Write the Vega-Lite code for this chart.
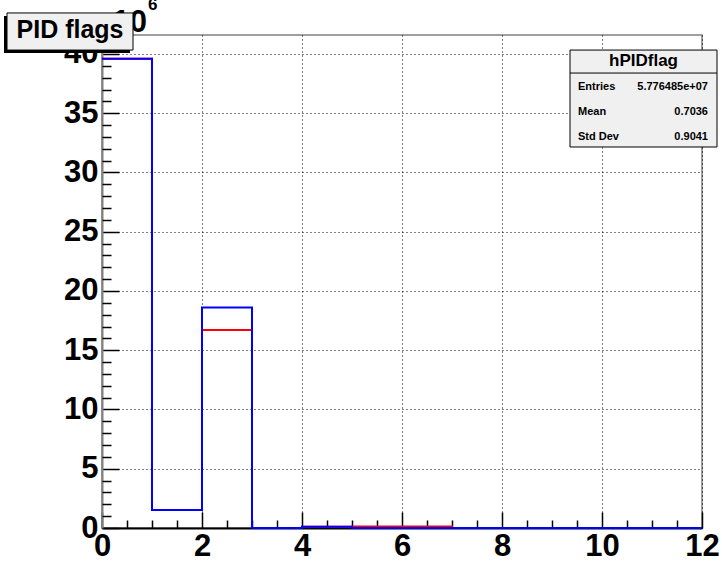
{
  "$schema": "https://vega.github.io/schema/vega-lite/v6.json",
  "width": 600,
  "height": 493,
  "autosize": "none",
  "padding": {"left": 102, "top": 35, "right": 20, "bottom": 33},
  "background": "white",
  "config": {
    "view": {"stroke": "#808080", "strokeWidth": 1.5},
    "font": "Liberation Sans"
  },
  "datasets": {
    "hist": [
      {"series": "red", "lo": 0, "count": 39.6},
      {"series": "red", "lo": 1, "count": 1.52},
      {"series": "red", "lo": 2, "count": 16.7},
      {"series": "red", "lo": 3, "count": 0},
      {"series": "red", "lo": 4, "count": 0.1},
      {"series": "red", "lo": 5, "count": 0.12},
      {"series": "red", "lo": 6, "count": 0.12},
      {"series": "red", "lo": 7, "count": 0},
      {"series": "red", "lo": 8, "count": 0},
      {"series": "red", "lo": 9, "count": 0},
      {"series": "red", "lo": 10, "count": 0},
      {"series": "red", "lo": 11, "count": 0},
      {"series": "red", "lo": 12, "count": 0},
      {"series": "blue", "lo": 0, "count": 39.6},
      {"series": "blue", "lo": 1, "count": 1.52},
      {"series": "blue", "lo": 2, "count": 18.6},
      {"series": "blue", "lo": 3, "count": 0},
      {"series": "blue", "lo": 4, "count": 0.1},
      {"series": "blue", "lo": 5, "count": 0},
      {"series": "blue", "lo": 6, "count": 0},
      {"series": "blue", "lo": 7, "count": 0},
      {"series": "blue", "lo": 8, "count": 0},
      {"series": "blue", "lo": 9, "count": 0},
      {"series": "blue", "lo": 10, "count": 0},
      {"series": "blue", "lo": 11, "count": 0},
      {"series": "blue", "lo": 12, "count": 0}
    ]
  },
  "resolve": {"axis": {"x": "independent", "y": "independent"}},
  "layer": [
    {
      "data": {"name": "hist"},
      "transform": [{"filter": "datum.series === 'red'"}],
      "mark": {"type": "line", "interpolate": "step-after", "strokeWidth": 2, "color": "#ff0000"},
      "encoding": {
        "x": {
          "field": "lo", "type": "quantitative",
          "scale": {"domain": [0, 12], "nice": false, "zero": false},
          "axis": {
            "orient": "bottom", "title": null,
            "values": [0, 2, 4, 6, 8, 10, 12], "format": "d",
            "labelFont": "Liberation Sans", "labelFontSize": 31, "labelFontWeight": "bold",
            "labelColor": "black", "labelPadding": 19, "labelFlush": false, "labelOverlap": false,
            "tickSize": -16, "tickColor": "black", "tickWidth": 1.5,
            "domainColor": "black", "domainWidth": 2,
            "grid": true, "gridColor": "black", "gridDash": [1, 3], "gridWidth": 1
          }
        },
        "y": {
          "field": "count", "type": "quantitative",
          "scale": {"domain": [0, 41.6], "nice": false, "zero": false},
          "axis": {
            "orient": "left", "title": null,
            "values": [0, 5, 10, 15, 20, 25, 30, 35, 40], "format": "d",
            "labelFont": "Liberation Sans", "labelFontSize": 31, "labelFontWeight": "bold",
            "labelColor": "black", "labelPadding": 21, "labelFlush": false, "labelOverlap": false,
            "tickSize": -17, "tickColor": "black", "tickWidth": 1.5,
            "domainColor": "#808080", "domainWidth": 2,
            "grid": true, "gridColor": "black", "gridDash": [1, 3], "gridWidth": 1
          }
        }
      }
    },
    {
      "data": {"name": "hist"},
      "transform": [{"filter": "datum.series === 'blue'"}],
      "mark": {"type": "line", "interpolate": "step-after", "strokeWidth": 2, "color": "#0000ff"},
      "encoding": {
        "x": {
          "field": "lo", "type": "quantitative",
          "axis": {
            "orient": "bottom", "title": null,
            "values": [0.5, 1, 1.5, 2.5, 3, 3.5, 4.5, 5, 5.5, 6.5, 7, 7.5, 8.5, 9, 9.5, 10.5, 11, 11.5],
            "labels": false, "domain": false, "grid": false,
            "tickSize": -8, "tickColor": "black", "tickWidth": 1.5
          }
        },
        "y": {
          "field": "count", "type": "quantitative",
          "axis": {
            "orient": "left", "title": null,
            "values": [1, 2, 3, 4, 6, 7, 8, 9, 11, 12, 13, 14, 16, 17, 18, 19, 21, 22, 23, 24, 26, 27, 28, 29, 31, 32, 33, 34, 36, 37, 38, 39, 41],
            "labels": false, "domain": false, "grid": false,
            "tickSize": -9, "tickColor": "black", "tickWidth": 1.5
          }
        }
      }
    },
    {
      "data": {"values": [{}]},
      "mark": {"type": "text", "text": "10", "font": "Liberation Sans", "fontSize": 31, "fontWeight": "bold", "align": "right", "baseline": "alphabetic", "color": "black"},
      "encoding": {
        "x": {"datum": 0.9, "axis": null},
        "y": {"datum": 41.85, "axis": null}
      }
    },
    {
      "data": {"values": [{}]},
      "mark": {"type": "text", "text": "6", "font": "Liberation Sans", "fontSize": 17, "fontWeight": "bold", "align": "left", "baseline": "alphabetic", "color": "black"},
      "encoding": {
        "x": {"datum": 0.92, "axis": null},
        "y": {"datum": 43.75, "axis": null}
      }
    },
    {
      "data": {"values": [{}]},
      "mark": {"type": "rect", "fill": "black", "clip": false},
      "encoding": {
        "x": {"datum": -1.96, "axis": null},
        "x2": {"datum": 0.56},
        "y": {"datum": 43.2, "axis": null},
        "y2": {"datum": 40.08}
      }
    },
    {
      "data": {"values": [{}]},
      "mark": {"type": "rect", "fill": "#f0f0f0", "stroke": "black", "strokeWidth": 1, "clip": false},
      "encoding": {
        "x": {"datum": -1.9, "axis": null},
        "x2": {"datum": 0.62},
        "y": {"datum": 43.46, "axis": null},
        "y2": {"datum": 40.33}
      }
    },
    {
      "data": {"values": [{}]},
      "mark": {"type": "text", "text": "PID flags", "font": "Liberation Sans", "fontSize": 25, "fontWeight": "bold", "align": "center", "baseline": "alphabetic", "color": "black"},
      "encoding": {
        "x": {"datum": -0.64, "axis": null},
        "y": {"datum": 41.35, "axis": null}
      }
    },
    {
      "data": {"values": [{}]},
      "mark": {"type": "rect", "fill": "#f0f0f0", "stroke": "black", "strokeWidth": 1, "clip": false},
      "encoding": {
        "x": {"datum": 9.36, "axis": null},
        "x2": {"datum": 12.3},
        "y": {"datum": 40.33, "axis": null},
        "y2": {"datum": 32.15}
      }
    },
    {
      "data": {"values": [{}]},
      "mark": {"type": "rule", "color": "black", "strokeWidth": 1},
      "encoding": {
        "x": {"datum": 9.36, "axis": null},
        "x2": {"datum": 12.3},
        "y": {"datum": 38.39, "axis": null}
      }
    },
    {
      "data": {"values": [{}]},
      "mark": {"type": "text", "text": "hPIDflag", "fontSize": 17, "fontWeight": "bold", "align": "center", "baseline": "middle", "color": "black"},
      "encoding": {
        "x": {"datum": 10.83, "axis": null},
        "y": {"datum": 39.42, "axis": null}
      }
    },
    {
      "data": {"values": [{}]},
      "mark": {"type": "text", "text": "Entries", "fontSize": 11, "fontWeight": "bold", "align": "left", "baseline": "middle", "color": "black"},
      "encoding": {"x": {"datum": 9.52, "axis": null}, "y": {"datum": 37.21, "axis": null}}
    },
    {
      "data": {"values": [{}]},
      "mark": {"type": "text", "text": "5.776485e+07", "fontSize": 11, "fontWeight": "bold", "align": "right", "baseline": "middle", "color": "black"},
      "encoding": {"x": {"datum": 12.12, "axis": null}, "y": {"datum": 37.21, "axis": null}}
    },
    {
      "data": {"values": [{}]},
      "mark": {"type": "text", "text": "Mean", "fontSize": 11, "fontWeight": "bold", "align": "left", "baseline": "middle", "color": "black"},
      "encoding": {"x": {"datum": 9.52, "axis": null}, "y": {"datum": 35.1, "axis": null}}
    },
    {
      "data": {"values": [{}]},
      "mark": {"type": "text", "text": "0.7036", "fontSize": 11, "fontWeight": "bold", "align": "right", "baseline": "middle", "color": "black"},
      "encoding": {"x": {"datum": 12.12, "axis": null}, "y": {"datum": 35.1, "axis": null}}
    },
    {
      "data": {"values": [{}]},
      "mark": {"type": "text", "text": "Std Dev", "fontSize": 11, "fontWeight": "bold", "align": "left", "baseline": "middle", "color": "black"},
      "encoding": {"x": {"datum": 9.52, "axis": null}, "y": {"datum": 32.99, "axis": null}}
    },
    {
      "data": {"values": [{}]},
      "mark": {"type": "text", "text": "0.9041", "fontSize": 11, "fontWeight": "bold", "align": "right", "baseline": "middle", "color": "black"},
      "encoding": {"x": {"datum": 12.12, "axis": null}, "y": {"datum": 32.99, "axis": null}}
    }
  ]
}
